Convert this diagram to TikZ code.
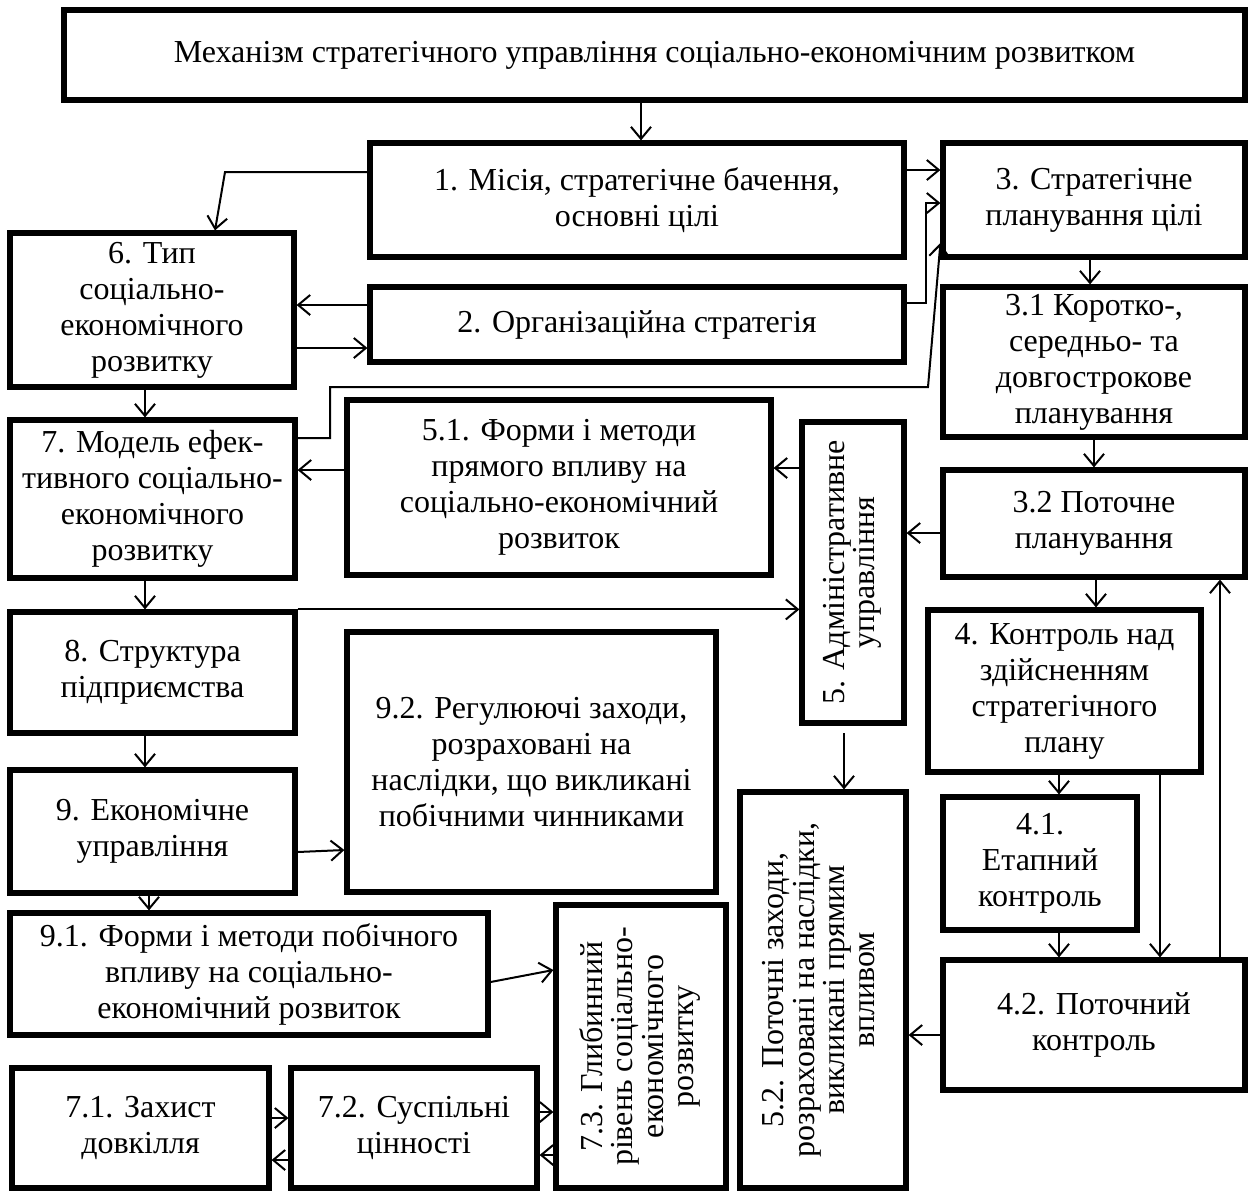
\documentclass[tikz,border=0pt]{standalone}
\usepackage{fontspec}
\setmainfont{Liberation Serif}
\usepackage{graphicx}
\usetikzlibrary{arrows.meta}
\tikzset{
  bx/.style={draw, line width=2.6pt, rectangle, align=center, inner sep=1pt,
    font=\fontsize{16}{18}\selectfont},
  arr/.style={line width=1pt, -{Straight Barb[length=6pt,width=10pt,line width=1pt]}},
  ln/.style={line width=1pt}
}
\newcommand\bx[6]{\node[bx, minimum width={(#4-#2)*0.5pt}, minimum height={(#5-#3)*0.5pt}] (#1) at ({(#2+#4)/2},{(#3+#5)/2}) {#6};}
\newcommand\rtext[1]{\rotatebox{90}{\fontsize{16}{15}\selectfont\begin{tabular}{@{}c@{}}#1\end{tabular}}}
\begin{document}
\begin{tikzpicture}[x=0.5pt,y=-0.5pt]
\path[fill=white] (0,0) rectangle (1248,1191);
\useasboundingbox (0,0) rectangle (1248,1191);
\bx{top}{64}{10}{1245}{100}{Механізм стратегічного управління соціально-економічним розвитком}
\bx{n1}{370}{143}{904}{257}{1. Місія, стратегічне бачення,\\основні цілі}
\bx{n3}{943}{143}{1245}{257}{3. Стратегічне\\планування цілі}
\bx{n6}{10}{233}{294}{387}{6. Тип\\соціально-\\економічного\\розвитку}
\bx{n2}{370}{287}{904}{362}{2. Організаційна стратегія}
\bx{n31}{943}{287}{1245}{437}{3.1 Коротко-,\\середньо- та\\довгострокове\\планування}
\bx{n7}{10}{420}{295}{578}{7. Модель ефек-\\тивного соціально-\\економічного\\розвитку}
\bx{n51}{347}{400}{771}{575}{5.1. Форми і методи\\прямого впливу на\\соціально-економічний\\розвиток}
\bx{n5}{802}{422}{904}{723}{\rtext{5. Адміністративне\\управління}}
\bx{n32}{943}{470}{1245}{577}{3.2 Поточне\\планування}
\bx{n8}{10}{612}{295}{733}{8. Структура\\підприємства}
\bx{n92}{347}{632}{716}{892}{9.2. Регулюючі заходи,\\розраховані на\\наслідки, що викликані\\побічними чинниками}
\bx{n4}{928}{610}{1201}{772}{4. Контроль над\\здійсненням\\стратегічного\\плану}
\bx{n9}{10}{770}{295}{893}{9. Економічне\\управління}
\bx{n52}{740}{792}{906}{1188}{\rtext{5.2. Поточні заходи,\\розраховані на наслідки,\\викликані прямим\\впливом}}
\bx{n41}{943}{797}{1137}{930}{4.1.\\Етапний\\контроль}
\bx{n91}{10}{913}{488}{1035}{9.1. Форми і методи побічного\\впливу на соціально-\\економічний розвиток}
\bx{n73}{556}{905}{726}{1188}{\rtext{7.3. Глибинний\\рівень соціально-\\економічного\\розвитку}}
\bx{n42}{943}{960}{1245}{1090}{4.2. Поточний\\контроль}
\bx{n71}{12}{1068}{269}{1188}{7.1. Захист\\довкілля}
\bx{n72}{291}{1068}{537}{1188}{7.2. Суспільні\\цінності}
% connectors
\draw[arr] (top.south -| 641,0) -- (n1.north -| 641,0);
\draw[arr] (n1.west |- 0,172) -- (225,172) -- (n6.north -| 215,0);
\draw[arr] (n1.east |- 0,170) -- (n3.west |- 0,170);
\draw[arr] (n2.east |- 0,303) -- (926,303) -- (926,203) -- (n3.west |- 0,203);
\draw[arr] (n7.east |- 0,438) -- (330,438) -- (330,387) -- (928,387) -- (n3.west |- 0,243);
\draw[arr] (n2.west |- 0,305) -- (n6.east |- 0,305);
\draw[arr] (n6.east |- 0,348) -- (n2.west |- 0,348);
\draw[arr] (n6.south -| 145,0) -- (n7.north -| 145,0);
\draw[arr] (n51.west |- 0,470) -- (n7.east |- 0,470);
\draw[arr] (n5.west |- 0,468) -- (n51.east |- 0,468);
\draw[arr] (n32.west |- 0,533) -- (n5.east |- 0,533);
\draw[arr] (n3.south -| 1090,0) -- (n31.north -| 1090,0);
\draw[arr] (n31.south -| 1094,0) -- (n32.north -| 1094,0);
\draw[arr] (n32.south -| 1096,0) -- (n4.north -| 1096,0);
\draw[arr] (n7.south -| 145,0) -- (n8.north -| 145,0);
\draw[arr] (n8.north east) -- (n5.west |- n8.north east);
\draw[arr] (n8.south -| 145,0) -- (n9.north -| 145,0);
\draw[arr] (n9.east |- 0,852) -- (n92.west |- 0,850);
\draw[arr] (n9.south -| 149,0) -- (n91.north -| 149,0);
\draw[arr] (n91.east |- 0,982) -- (n73.west |- 0,970);
\draw[arr] (n71.east |- 0,1118) -- (n72.west |- 0,1118);
\draw[arr] (n72.west |- 0,1160) -- (n71.east |- 0,1160);
\draw[arr] (n72.east |- 0,1112) -- (n73.west |- 0,1112);
\draw[arr] (n73.west |- 0,1155) -- (n72.east |- 0,1155);
\coordinate (s52) at (844,733);
\draw[arr] (s52) -- (n52.north -| s52);
\draw[arr] (n4.south -| 1059,0) -- (n41.north -| 1059,0);
\draw[arr] (n41.south -| 1059,0) -- (n42.north -| 1059,0);
\draw[arr] (n4.south -| 1160,0) -- (n42.north -| 1160,0);
\draw[arr] (n42.north -| 1220,0) -- (n32.south -| 1220,0);
\draw[arr] (n42.west |- 0,1035) -- (n52.east |- 0,1035);
\end{tikzpicture}
\end{document}
